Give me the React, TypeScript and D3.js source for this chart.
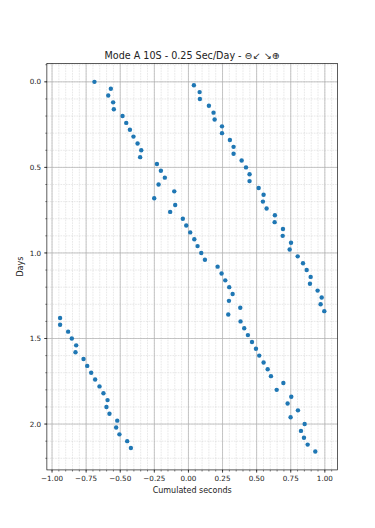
import React from "react";
import * as d3 from "d3";

const days: number[] = [
  0, 0.02, 0.04, 0.06, 0.08, 0.1, 0.12, 0.14, 0.16, 0.18,
  0.2, 0.22, 0.24, 0.26, 0.28, 0.3, 0.32, 0.34, 0.36, 0.38,
  0.4, 0.42, 0.44, 0.46, 0.48, 0.5, 0.52, 0.54, 0.56, 0.58,
  0.6, 0.62, 0.64, 0.66, 0.68, 0.7, 0.72, 0.74, 0.76, 0.78,
  0.8, 0.82, 0.84, 0.86, 0.88, 0.9, 0.92, 0.94, 0.96, 0.98,
  1.0, 1.02, 1.04, 1.06, 1.08, 1.1, 1.12, 1.14, 1.16, 1.18,
  1.2, 1.22, 1.24, 1.26, 1.28, 1.3, 1.32, 1.34, 1.36, 1.38,
  1.4, 1.42, 1.44, 1.46, 1.48, 1.5, 1.52, 1.54, 1.56, 1.58,
  1.6, 1.62, 1.64, 1.66, 1.68, 1.7, 1.72, 1.74, 1.76, 1.78,
  1.8, 1.82, 1.84, 1.86, 1.88, 1.9, 1.92, 1.94, 1.96, 1.98,
  2.0, 2.02, 2.04, 2.06, 2.08, 2.1, 2.12, 2.14, 2.16,
];

const seconds: number[] = [
  -0.689, 0.04, -0.569, 0.082, -0.588, 0.084, -0.552, 0.15, -0.547, 0.184,
  -0.483, 0.192, -0.456, 0.246, -0.429, 0.246, -0.403, 0.304, -0.373, 0.331,
  -0.346, 0.331, -0.354, 0.39, -0.231, 0.422, -0.202, 0.448, -0.173, 0.448,
  -0.219, 0.515, -0.104, 0.551, -0.251, 0.546, -0.097, 0.573, -0.134, 0.634,
  -0.041, 0.632, -0.016, 0.693, 0.013, 0.691, 0.043, 0.752, 0.067, 0.742,
  0.094, 0.801, 0.121, 0.84, 0.214, 0.867, 0.243, 0.896, 0.27, 0.891,
  0.299, 0.947, 0.324, 0.977, 0.297, 0.969, 0.38, 0.996, 0.292, -0.941,
  0.382, -0.941, 0.409, -0.882, 0.436, -0.855, 0.466, -0.823, 0.495, -0.828,
  0.519, -0.769, 0.551, -0.742, 0.581, -0.713, 0.605, -0.684, 0.696, -0.652,
  0.647, -0.623, 0.754, -0.593, 0.727, -0.601, 0.803, -0.579, 0.749, -0.522,
  0.852, -0.53, 0.825, -0.506, 0.847, -0.449, 0.874, -0.422, 0.93,
];

const xTicks: number[] = [-1, -0.75, -0.5, -0.25, 0, 0.25, 0.5, 0.75, 1];
const yTicks: number[] = [0, 0.5, 1, 1.5, 2];

const titleText = "Mode A 10S - 0.25 Sec/Day - \u2296\u2199 \u2198\u2295";
const xLabel = "Cumulated seconds";
const yLabel = "Days";

const W = 375;
const H = 528;
const L = 46.875;
const R = 337.5;
const T = 63.36;
const B = 469.92;
const FONT = "DejaVu Sans, sans-serif";
const BLUE = "#1f77b4";
const TICK_FS = 7.2;
const LABEL_FS = 8;
const TITLE_FS = 9.6;

function padded(ext: [number, number]): [number, number] {
  const span = ext[1] - ext[0];
  return [ext[0] - span * 0.05, ext[1] + span * 0.05];
}

export default function App() {
  const xExt = d3.extent(seconds) as [number, number];
  const yExt = d3.extent(days) as [number, number];
  const x = d3.scaleLinear().domain(padded(xExt)).range([L, R]);
  const y = d3.scaleLinear().domain(padded(yExt)).range([T, B]);

  const xd = x.domain();
  const yd = y.domain();
  const xMinor = d3.range(-1.2, 1.2001, 0.05).map((v) => Math.round(v * 100) / 100).filter((v) => v >= xd[0] && v <= xd[1]);
  const yMinor = d3.range(-0.2, 2.4001, 0.1).map((v) => Math.round(v * 10) / 10).filter((v) => v >= yd[0] && v <= yd[1]);

  const fx = (v: number) => d3.format(".2f")(v).replace("-", "\u2212");
  const fy = (v: number) => d3.format(".1f")(v);

  return (
    <svg width={W} height={H} style={{ position: "absolute", left: 0, top: 0, background: "#fff" }} fontFamily={FONT}>
      <rect x={0} y={0} width={W} height={H} fill="#fff" />
      {xMinor.map((v) => (
        <line key={"xm" + v} x1={x(v)} x2={x(v)} y1={T} y2={B} stroke="#bdbdbd" strokeWidth={0.5} strokeDasharray="0.7 0.9" />
      ))}
      {yMinor.map((v) => (
        <line key={"ym" + v} x1={L} x2={R} y1={y(v)} y2={y(v)} stroke="#bdbdbd" strokeWidth={0.5} strokeDasharray="0.7 0.9" />
      ))}
      {xTicks.map((v) => (
        <line key={"xg" + v} x1={x(v)} x2={x(v)} y1={T} y2={B} stroke="#b0b0b0" strokeWidth={0.7} />
      ))}
      {yTicks.map((v) => (
        <line key={"yg" + v} x1={L} x2={R} y1={y(v)} y2={y(v)} stroke="#b0b0b0" strokeWidth={0.7} />
      ))}
      {seconds.map((s, i) => (
        <circle key={"p" + i} cx={x(s)} cy={y(days[i])} r={2.2} fill={BLUE} />
      ))}
      <rect x={L} y={T} width={R - L} height={B - T} fill="none" stroke="#000" strokeWidth={0.64} />
      {xMinor.map((v) => (
        <line key={"xmt" + v} x1={x(v)} x2={x(v)} y1={B} y2={B + 1.6} stroke="#000" strokeWidth={0.48} />
      ))}
      {yMinor.map((v) => (
        <line key={"ymt" + v} x1={L} x2={L - 1.6} y1={y(v)} y2={y(v)} stroke="#000" strokeWidth={0.48} />
      ))}
      {xTicks.map((v) => (
        <g key={"xt" + v}>
          <line x1={x(v)} x2={x(v)} y1={B} y2={B + 2.8} stroke="#000" strokeWidth={0.64} />
          <text x={x(v)} y={481.2} fontSize={TICK_FS} textAnchor="middle" fill="#222">{fx(v)}</text>
        </g>
      ))}
      {yTicks.map((v) => (
        <g key={"yt" + v}>
          <line x1={L} x2={L - 2.8} y1={y(v)} y2={y(v)} stroke="#000" strokeWidth={0.64} />
          <text x={41.2} y={y(v) + 2.6} fontSize={TICK_FS} textAnchor="end" fill="#222">{fy(v)}</text>
        </g>
      ))}
      <text x={(L + R) / 2} y={492.6} fontSize={LABEL_FS} textAnchor="middle" fill="#222">{xLabel}</text>
      <text transform={`translate(22.6, ${(T + B) / 2}) rotate(-90)`} fontSize={LABEL_FS} textAnchor="middle" fill="#222">{yLabel}</text>
      <text x={(L + R) / 2} y={58.7} fontSize={TITLE_FS} textAnchor="middle" fill="#222">{titleText}</text>
    </svg>
  );
}
